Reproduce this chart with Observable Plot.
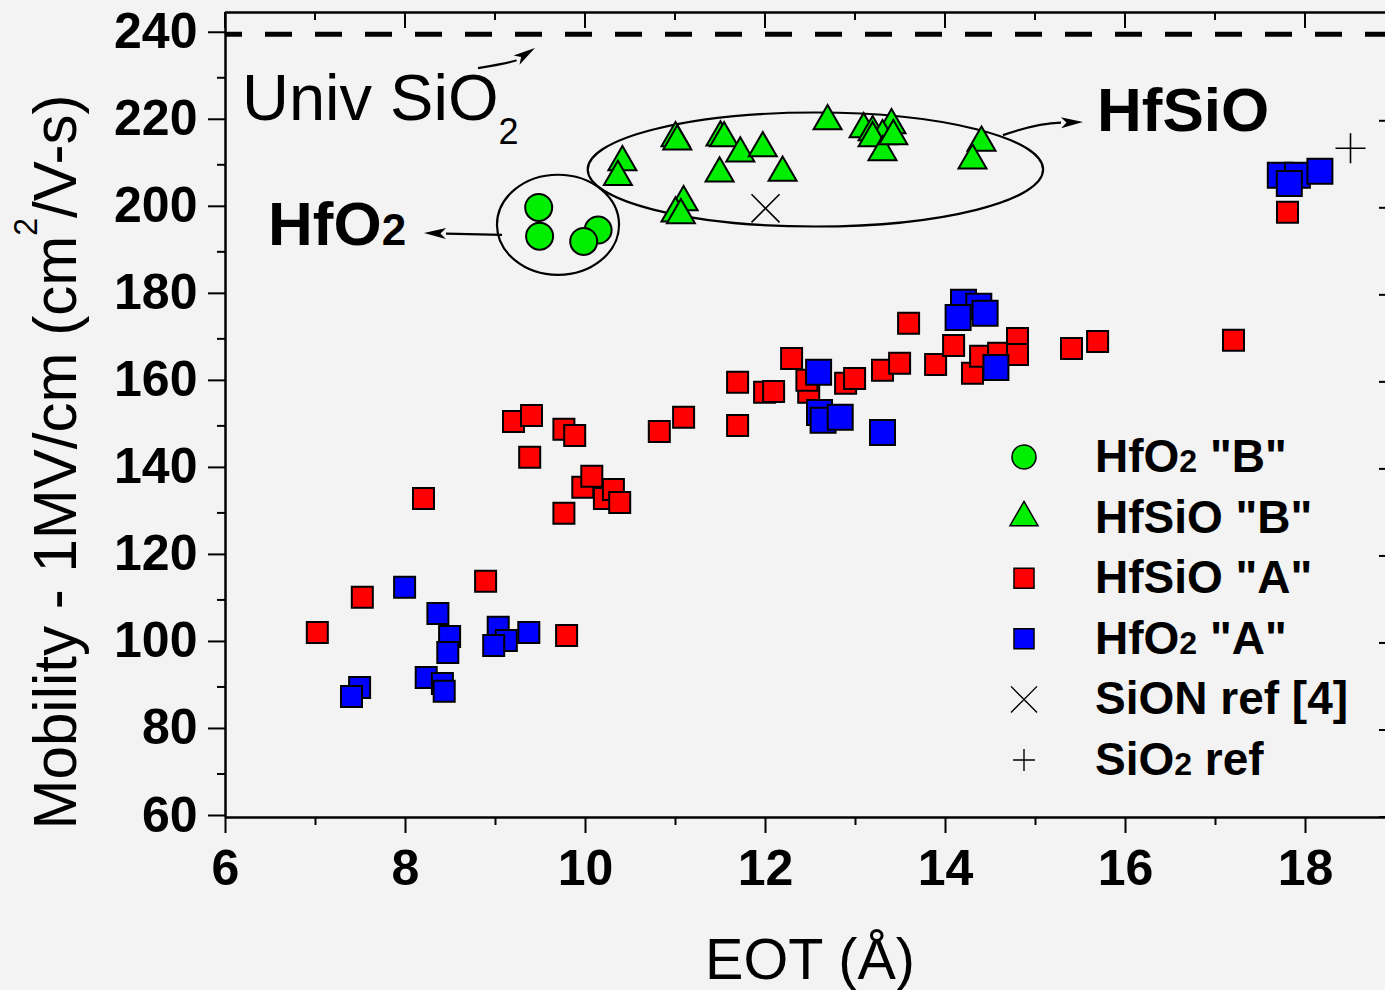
<!DOCTYPE html>
<html>
<head>
<meta charset="utf-8">
<script src="https://cdn.jsdelivr.net/npm/d3@7"></script>
<script src="https://cdn.jsdelivr.net/npm/@observablehq/plot@0.6"></script>
<style>
  html, body { margin: 0; padding: 0; background: #f3f3f3; overflow: hidden; }
  #chart svg { display: block; max-width: none !important; }
</style>
</head>
<body>
<div id="chart"></div>
<script>
// ---------------- data (EOT in Å, mobility in cm²/V-s) ----------------
const hfo2B = [[9.48, 200.2], [9.49, 193.6], [10.14, 195.0], [9.98, 192.4]];

const hfsioB = [
  [10.41, 210.6], [10.36, 207.2], [11.00, 216.1], [11.02, 215.4], [11.50, 216.3],
  [11.54, 216.1], [11.72, 212.6], [11.97, 213.8], [11.49, 208.0], [12.19, 208.2],
  [11.09, 201.4], [11.00, 198.8], [11.06, 198.4], [12.69, 220.0], [13.09, 218.2],
  [13.19, 217.5], [13.40, 219.1], [13.30, 216.6], [13.19, 216.1], [13.30, 212.9],
  [13.42, 216.6], [14.40, 215.1], [14.30, 211.0]
];

const hfsioA = [
  [7.02, 102.5], [7.52, 110.6], [8.20, 133.3], [8.89, 114.3], [9.20, 151.0],
  [9.40, 152.4], [9.38, 142.8], [9.76, 149.2], [9.88, 147.8], [9.76, 129.9],
  [9.97, 135.9], [10.07, 138.4], [10.21, 133.3], [10.31, 135.4], [10.38, 132.4],
  [9.79, 101.8], [10.82, 148.7], [11.09, 152.0], [11.69, 160.0], [11.69, 150.1],
  [11.99, 157.7], [12.09, 157.9], [12.29, 165.5], [12.48, 157.7], [12.46, 160.5],
  [12.89, 159.8], [12.99, 160.9], [13.30, 162.8], [13.49, 164.4], [13.59, 173.6],
  [13.89, 164.1], [14.09, 168.5], [14.30, 162.1], [14.39, 166.0], [14.59, 166.7],
  [14.80, 170.1], [14.80, 166.4], [15.40, 167.8], [15.69, 169.4], [17.20, 169.7],
  [17.80, 199.1]
];

// HfO2 "A": thin-EOT batch (smaller markers) and thicker batch (larger markers)
const hfo2A_thin = [
  [7.99, 112.9], [8.36, 106.9], [8.49, 101.6], [8.47, 97.9], [9.03, 103.7],
  [9.12, 100.7], [8.98, 99.5], [9.37, 102.5], [7.49, 89.9], [7.40, 87.8],
  [8.23, 92.2], [8.41, 90.8], [8.43, 89.0]
];
const hfo2A_thick = [
  [14.20, 178.4], [14.37, 177.5], [14.44, 175.9], [14.14, 174.9], [14.56, 163.4],
  [12.59, 162.3], [12.60, 153.1], [12.64, 151.3], [12.83, 152.0], [13.30, 148.5],
  [17.72, 207.6], [17.91, 207.6], [18.16, 208.5], [17.82, 205.7]
];

const sionRef = [[12.0, 200.0]];
const sio2Ref = [[18.5, 213.8]];
const univSiO2 = [240];

const xMajor = [6, 8, 10, 12, 14, 16, 18];
const xMinor = [7, 9, 11, 13, 15, 17];
const yMajor = [60, 80, 100, 120, 140, 160, 180, 200, 220, 240];
const yMinor = [70, 90, 110, 130, 150, 170, 190, 210, 230];

const legendItems = [
  {label: 'HfO₂ "B"', symbol: "circle"},
  {label: 'HfSiO "B"', symbol: "triangle"},
  {label: 'HfSiO "A"', symbol: "squareRed"},
  {label: 'HfO₂ "A"', symbol: "squareBlue"},
  {label: "SiON ref [4]", symbol: "times"},
  {label: "SiO₂ ref", symbol: "plus"}
];

// ---------------- annotation geometry (data units) ----------------
const ellipses = [
  {cx: 9.70, cy: 196.1, rx: 0.678, ry: 11.5},
  {cx: 12.56, cy: 208.8, rx: 2.53, ry: 13.1}
];
const arrows = [
  {p0: [8.811, 232.1], c: [9.206, 233.5], p2: [9.444, 236.7]},
  {p0: [9.078, 193.8], c: [8.64, 194.0], p2: [8.211, 194.2]},
  {p0: [14.644, 216.7], c: [15.022, 219.4], p2: [15.533, 219.7]}
];
const labels = [
  {text: "Univ SiO₂", x: 6.189, y: 220.2, size: 65, small: 36, dy: 24, weight: "normal"},
  {text: "HfO₂", x: 6.478, y: 191.5, size: 62, small: 44, dy: 0, weight: "bold"},
  {text: "HfSiO", x: 15.689, y: 217.7, size: 62, small: 44, dy: 0, weight: "bold"}
];

// ---------------- colours ----------------
const GREEN = "#00ee00", RED = "#ff0000", BLUE = "#0000ff";
const FONT = "'Liberation Sans', Arial, Helvetica, sans-serif";

function richText(sel, str, big, small, dy) {
  const parts = str.split("₂");
  parts.forEach((p, i) => {
    if (i > 0) sel.append("tspan").attr("font-size", small).attr("dy", dy).text("2");
    if (p) sel.append("tspan").attr("font-size", big).attr("dy", i > 0 ? -dy : 0).text(p);
  });
}

const xy = {x: d => d[0], y: d => d[1]};

const plot = Plot.plot({
  width: 1400,
  height: 990,
  marginLeft: 225,
  marginRight: 5,
  marginTop: 12,
  marginBottom: 173,
  x: {domain: [6, 19]},
  y: {domain: [60, 245]},
  style: {background: "#f3f3f3", fontFamily: FONT, maxWidth: "none", overflow: "visible"},
  marks: [
    // Universal SiO2 dashed line
    Plot.ruleY(univSiO2, {stroke: "black", strokeWidth: 5, strokeDasharray: "27,23", strokeDashoffset: 10}),
    // frame
    Plot.ruleX([6], {stroke: "black", strokeWidth: 2.5}),
    Plot.ruleX([19], {stroke: "black", strokeWidth: 2.5}),
    Plot.ruleY([60], {stroke: "black", strokeWidth: 2.5}),
    Plot.ruleY([245], {stroke: "black", strokeWidth: 2.5}),
    // axes
    Plot.axisX(xMajor, {tickSize: 16, tickPadding: 16, fontSize: 50, fontWeight: "bold", strokeWidth: 2, label: null, tickFormat: d => String(d)}),
    Plot.axisX(xMinor, {tickSize: 8, text: null, strokeWidth: 2, label: null}),
    Plot.axisY(yMajor, {tickSize: 17, tickPadding: 11, fontSize: 50, fontWeight: "bold", strokeWidth: 2, label: null, dy: -2, tickFormat: d => String(d)}),
    Plot.axisY(yMinor, {tickSize: 8, text: null, strokeWidth: 2, label: null}),
    // inward ticks on top and right edges
    (index, {x, y}) => {
      const g = d3.create("svg:g").attr("stroke", "black").attr("stroke-width", 2);
      const top = y(245), right = x(19);
      for (const t of xMajor) g.append("line").attr("x1", x(t)).attr("x2", x(t)).attr("y1", top).attr("y2", top + 16);
      for (const t of xMinor) g.append("line").attr("x1", x(t)).attr("x2", x(t)).attr("y1", top).attr("y2", top + 8);
      for (const t of yMajor) g.append("line").attr("y1", y(t)).attr("y2", y(t)).attr("x1", right).attr("x2", right - 16);
      for (const t of yMinor) g.append("line").attr("y1", y(t)).attr("y2", y(t)).attr("x1", right).attr("x2", right - 8);
      return g.node();
    },
    // ellipses and arrows
    (index, {x, y}) => {
      const g = d3.create("svg:g").attr("fill", "none").attr("stroke", "black").attr("stroke-width", 2.2);
      for (const e of ellipses) {
        g.append("ellipse").attr("cx", x(e.cx)).attr("cy", y(e.cy))
          .attr("rx", Math.abs(x(e.cx + e.rx) - x(e.cx))).attr("ry", Math.abs(y(e.cy + e.ry) - y(e.cy)));
      }
      for (const a of arrows) {
        const P0 = [x(a.p0[0]), y(a.p0[1])], C = [x(a.c[0]), y(a.c[1])], P2 = [x(a.p2[0]), y(a.p2[1])];
        const ang = Math.atan2(P2[1] - C[1], P2[0] - C[0]);
        const L = 22, Wd = 5.5;
        const base = [P2[0] - L * Math.cos(ang), P2[1] - L * Math.sin(ang)];
        g.append("path").attr("d", `M${P0}Q${C} ${base}`);
        const nx = -Math.sin(ang), ny = Math.cos(ang);
        g.append("path").attr("fill", "black").attr("stroke", "none")
          .attr("d", `M${P2}L${base[0] + nx * Wd},${base[1] + ny * Wd}L${base[0] + L * 0.25 * Math.cos(ang)},${base[1] + L * 0.25 * Math.sin(ang)}L${base[0] - nx * Wd},${base[1] - ny * Wd}Z`);
      }
      return g.node();
    },
    // data
    Plot.dot(hfsioA, {...xy, symbol: "square", r: 11.85, fill: RED, stroke: "black", strokeWidth: 2}),
    Plot.dot(hfo2A_thin, {...xy, symbol: "square", r: 11.85, fill: BLUE, stroke: "black", strokeWidth: 2}),
    Plot.dot(hfo2A_thick, {...xy, symbol: "square", r: 14.1, fill: BLUE, stroke: "black", strokeWidth: 2}),
    Plot.dot(hfo2B, {...xy, symbol: "circle", r: 13.5, fill: GREEN, stroke: "black", strokeWidth: 2}),
    Plot.dot(hfsioB, {...xy, symbol: "triangle", r: 10.4, fill: GREEN, stroke: "black", strokeWidth: 2}),
    Plot.dot(sionRef, {...xy, symbol: "times", r: 12.8, stroke: "black", strokeWidth: 1.6}),
    Plot.dot(sio2Ref, {...xy, symbol: "plus", r: 9.7, stroke: "black", strokeWidth: 1.6}),
    // text annotations
    (index, {x, y}) => {
      const g = d3.create("svg:g").attr("fill", "black").attr("font-family", FONT).attr("text-anchor", "start");
      for (const l of labels) {
        const t = g.append("text").attr("x", x(l.x)).attr("y", y(l.y)).attr("font-weight", l.weight).attr("text-anchor", "start");
        richText(t, l.text, l.size, l.small, l.dy);
      }
      return g.node();
    },
    // legend
    (index, scales, values, dims) => {
      const g = d3.create("svg:g").attr("font-family", FONT).attr("text-anchor", "start");
      const sx = 1024, tx = 1095, y0 = 472, step = 60.6;
      const sym = (type, r) => d3.symbol(type, Math.PI * r * r)();
      legendItems.forEach((it, i) => {
        const by = y0 + i * step, cy = by - 15;
        const s = g.append("path").attr("transform", `translate(${sx},${cy})`);
        if (it.symbol === "circle") s.attr("d", sym(d3.symbolCircle, 12)).attr("fill", GREEN).attr("stroke", "black").attr("stroke-width", 1.5);
        if (it.symbol === "triangle") s.attr("d", sym(d3.symbolTriangle, 10.4)).attr("fill", GREEN).attr("stroke", "black").attr("stroke-width", 1.5);
        if (it.symbol === "squareRed") s.attr("d", sym(d3.symbolSquare, 11.3)).attr("fill", RED).attr("stroke", "black").attr("stroke-width", 1.5);
        if (it.symbol === "squareBlue") s.attr("d", sym(d3.symbolSquare, 11.3)).attr("fill", BLUE).attr("stroke", "black").attr("stroke-width", 1.5);
        if (it.symbol === "times") s.attr("d", sym(d3.symbolTimes, 11.9)).attr("fill", "none").attr("stroke", "black").attr("stroke-width", 1.4);
        if (it.symbol === "plus") s.attr("d", sym(d3.symbolPlus, 7.1)).attr("fill", "none").attr("stroke", "black").attr("stroke-width", 1.4);
        const t = g.append("text").attr("x", tx).attr("y", by).attr("font-weight", "bold").attr("fill", "black").attr("text-anchor", "start");
        richText(t, it.label, 46, 32, 0);
      });
      return g.node();
    },
    // axis titles
    (index, scales, values, dims) => {
      const g = d3.create("svg:g").attr("font-family", FONT).attr("fill", "black");
      const t = g.append("text").attr("transform", "translate(76,462) rotate(-90)")
        .attr("text-anchor", "middle").attr("font-size", 62)
        .attr("textLength", 735).attr("lengthAdjust", "spacingAndGlyphs");
      t.append("tspan").text("Mobility - 1MV/cm (cm");
      t.append("tspan").attr("font-size", 33).attr("dy", -39).text("2");
      t.append("tspan").attr("dy", 39).text("/V-s)");
      g.append("text").attr("x", 810).attr("y", 979).attr("text-anchor", "middle")
        .attr("font-size", 58).attr("textLength", 210).attr("lengthAdjust", "spacingAndGlyphs")
        .text("EOT (Å)");
      return g.node();
    }
  ]
});

document.getElementById("chart").appendChild(plot);
</script>
</body>
</html>
